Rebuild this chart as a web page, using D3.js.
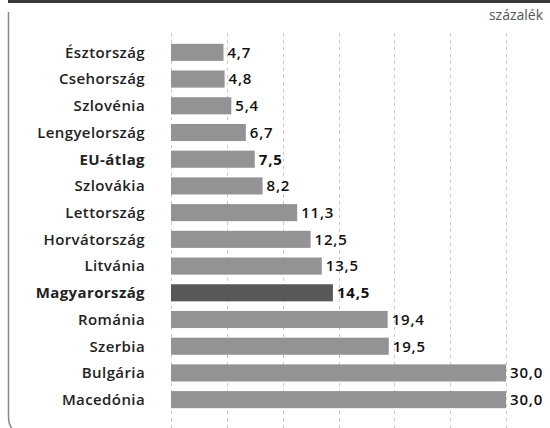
<!DOCTYPE html>
<html>
<head>
<meta charset="utf-8">
<script src="https://cdn.jsdelivr.net/npm/d3@7"></script>
<style>
  body { margin: 0; background: #fff; }
  svg { display: block; font-family: "Open Sans", "Noto Sans", sans-serif; }
</style>
</head>
<body>
<div id="chart"></div>
<script>
// data, top to bottom as in the original
const countries = ["Észtország", "Csehország", "Szlovénia", "Lengyelország", "EU-átlag", "Szlovákia",
  "Lettország", "Horvátország", "Litvánia", "Magyarország", "Románia", "Szerbia", "Bulgária", "Macedónia"];
const values = [4.7, 4.8, 5.4, 6.7, 7.5, 8.2, 11.3, 12.5, 13.5, 14.5, 19.4, 19.5, 30.0, 30.0];
const boldNames = ["EU-átlag", "Magyarország"];
const gridTicks = [0, 5, 10, 15, 20, 25, 30];
const unitLabel = "százalék";

const width = 550, height = 428;

const svg = d3.select("#chart").append("svg")
  .attr("width", width)
  .attr("height", height);

// frame: dark strip on top, gray rule on the left with rounded bottom corner
svg.append("rect")
  .attr("x", 8).attr("y", 0)
  .attr("width", width - 8).attr("height", 3)
  .attr("fill", "#3a3a3a");

svg.append("path")
  .attr("d", "M8.5,12 V416 Q8.5,428 16,432")
  .attr("fill", "none")
  .attr("stroke", "#8a8a8a")
  .attr("stroke-width", 1.5);

let x = d3.scaleLinear()
  .domain([0, 30])
  .range([171, 506]);

let y = d3.scaleBand()
  .domain(countries)
  .range([39, 413])
  .paddingInner(0.36)
  .paddingOuter(0.18);

// dashed gridlines
svg.append("g")
  .selectAll("line")
  .data(gridTicks)
  .join("line")
  .attr("x1", d => Math.round(x(d)) + 0.5)
  .attr("x2", d => Math.round(x(d)) + 0.5)
  .attr("y1", 33)
  .attr("y2", height)
  .attr("stroke", "#c8c8c8")
  .attr("stroke-width", 1)
  .attr("stroke-dasharray", "3,4");

// bars
svg.append("g")
  .selectAll("rect")
  .data(countries)
  .join("rect")
  .attr("x", x(0))
  .attr("y", d => y(d))
  .attr("width", (d, i) => x(values[i]) - x(0))
  .attr("height", y.bandwidth())
  .attr("fill", d => d === "Magyarország" ? "#58585a" : "#939395");

// category labels
svg.append("g")
  .selectAll("text")
  .data(countries)
  .join("text")
  .attr("x", 145)
  .attr("y", d => y(d) + y.bandwidth() / 2)
  .attr("dy", "0.36em")
  .attr("text-anchor", "end")
  .attr("font-size", 15)
  .attr("letter-spacing", 0.4)
  .attr("font-weight", d => boldNames.includes(d) ? 700 : 600)
  .attr("fill", "#222")
  .text(d => d);

// value labels, hungarian decimal comma
const fmt = d3.format(".1f");
svg.append("g")
  .selectAll("text")
  .data(countries)
  .join("text")
  .attr("x", (d, i) => x(values[i]) + 4)
  .attr("y", d => y(d) + y.bandwidth() / 2)
  .attr("dy", "0.36em")
  .attr("font-size", 15)
  .attr("letter-spacing", 0.8)
  .attr("font-weight", d => boldNames.includes(d) ? 700 : 600)
  .attr("fill", "#111")
  .text((d, i) => fmt(values[i]).replace(".", ","));

svg.append("text")
  .attr("x", 543)
  .attr("y", 20)
  .attr("text-anchor", "end")
  .attr("font-size", 14)
  .attr("fill", "#555")
  .text(unitLabel);
</script>
</body>
</html>
